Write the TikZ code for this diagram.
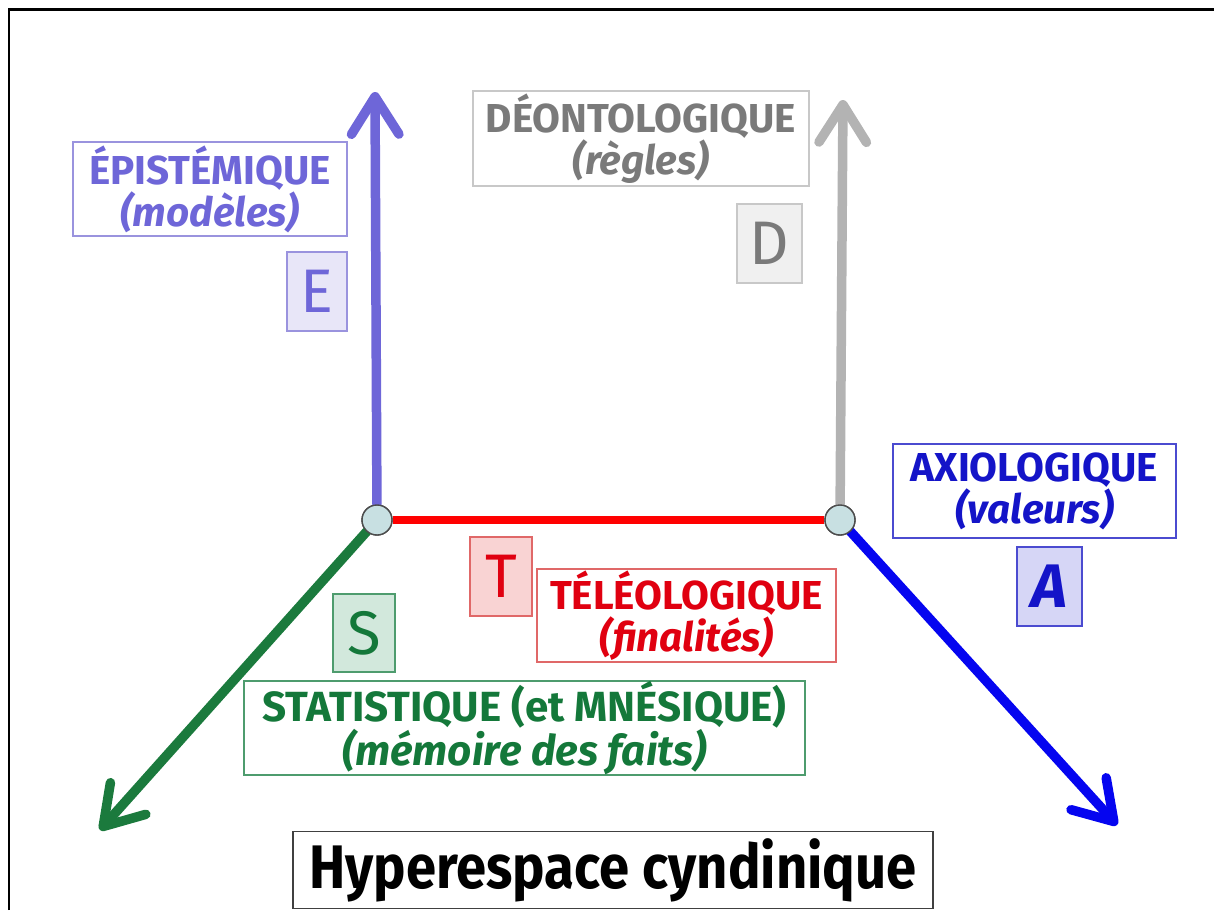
\documentclass[tikz,border=0pt]{standalone}
\usepackage{fontspec}
\setmainfont{Fira Sans}
\usetikzlibrary{arrows.meta}
\definecolor{EpiViolet}{HTML}{6E66D8}
\definecolor{EpiPale}{HTML}{E8E6F8}
\definecolor{EpiTrait}{HTML}{9A93DE}
\definecolor{DeoGris}{HTML}{B3B3B3}
\definecolor{DeoTexte}{HTML}{7A7A7A}
\definecolor{DeoPale}{HTML}{F0F0F0}
\definecolor{DeoTrait}{HTML}{C8C8C8}
\definecolor{AxiBleu}{HTML}{0505F0}
\definecolor{AxiTexte}{HTML}{1414C8}
\definecolor{AxiPale}{HTML}{D6D6F6}
\definecolor{AxiTrait}{HTML}{4B4BD0}
\definecolor{TeleoRouge}{HTML}{FF0000}
\definecolor{TeleoTexte}{HTML}{E00010}
\definecolor{TeleoPale}{HTML}{F9D3D3}
\definecolor{TeleoTrait}{HTML}{E06868}
\definecolor{StatVert}{HTML}{1B7A3D}
\definecolor{StatTexte}{HTML}{14783A}
\definecolor{StatPale}{HTML}{D2E8DC}
\definecolor{StatTrait}{HTML}{4E9C6E}
\definecolor{Jonction}{HTML}{C8E0E2}
\tikzset{
  cadre/.style={line width=0.06cm, draw=black},
  axebox/.style={draw, line width=0.9pt, fill=white, align=center, inner sep=0pt, font=\fontsize{23}{24}\selectfont},
  lettre/.style={draw, line width=0.9pt, inner sep=0pt, minimum width=1.26cm, minimum height=1.58cm, font=\fontsize{35}{35}\selectfont},
  axis/.style={line width=0.19cm, line cap=round, -{Straight Barb[length=7.5mm, width=9.5mm, line cap=round, line join=round]}},
  jonction/.style={circle, draw=black!70, fill=Jonction, line width=0.8pt, minimum size=0.6cm, inner sep=0pt},
  titre/.style={draw=black!75, line width=0.9pt, fill=white, inner sep=0pt, minimum width=12.8cm, minimum height=1.54cm, font=\fontsize{35}{35}\selectfont\bfseries},
}
\begin{document}
\begin{tikzpicture}[x=0.02cm, y=-0.02cm]
    \useasboundingbox (0,0) rectangle (1214,910);
    \draw[cadre] (9,910) -- (9,9) -- (1214,9);
    \coordinate (eTip) at (375,92);
    \coordinate (dTip) at (843,100);
    \coordinate (sTip) at (100,830);
    \coordinate (aTip) at (1117,825);
    \node[jonction] (L) at (377,520) {};
    \node[jonction] (R) at (840,520) {};
    \draw[axis, draw=EpiViolet] (L) -- (eTip);
    \draw[axis, draw=DeoGris] (R) -- (dTip);
    \draw[axis, draw=StatVert] (L) -- (sTip);
    \draw[axis, draw=AxiBleu] (R) -- (aTip);
    \draw[line width=0.17cm, draw=TeleoRouge] (L) -- (R);
    \node[jonction] at (L) {};
    \node[jonction] at (R) {};
    \node[axebox, draw=EpiTrait, text=EpiViolet, minimum width=5.48cm, minimum height=1.88cm] (epi) at (210,189) {\textbf{ÉPISTÉMIQUE}\\\textbf{\textit{(modèles)}}};
    \node[lettre, draw=EpiTrait, fill=EpiPale, text=EpiViolet, minimum width=1.2cm] (eLet) at (317,291.5) {E};
    \node[axebox, draw=DeoTrait, text=DeoTexte, minimum width=6.72cm, minimum height=1.9cm] (deo) at (641,138.5) {\textbf{DÉONTOLOGIQUE}\\\textbf{\textit{(règles)}}};
    \node[lettre, draw=DeoTrait, fill=DeoPale, text=DeoTexte, minimum width=1.3cm] (dLet) at (769.5,243.5) {D};
    \node[axebox, draw=AxiTrait, text=AxiTexte, minimum width=5.66cm, minimum height=1.88cm] (axi) at (1034.5,491) {\textbf{AXIOLOGIQUE}\\\textbf{\textit{(valeurs)}}};
    \node[lettre, draw=AxiTrait, fill=AxiPale, text=AxiTexte, minimum width=1.3cm] (aLet) at (1049.5,586.5) {\textbf{\textit{A}}};
    \node[lettre, draw=TeleoTrait, fill=TeleoPale, text=TeleoTexte, minimum width=1.24cm] (tLet) at (501,576.5) {T};
    \node[axebox, draw=TeleoTrait, text=TeleoTexte, minimum width=5.98cm, minimum height=1.86cm] (tel) at (686.5,615.5) {\textbf{TÉLÉOLOGIQUE}\\\textbf{\textit{(finalités)}}};
    \node[lettre, draw=StatTrait, fill=StatPale, text=StatTexte, minimum width=1.24cm, minimum height=1.56cm] (sLet) at (364,633) {S};
    \node[axebox, draw=StatTrait, text=StatTexte, minimum width=11.22cm, minimum height=1.8cm, font=\fontsize{24}{25}\selectfont] (sta) at (524.5,728) {\textbf{STATISTIQUE (et MNÉSIQUE)}\\\textbf{\textit{(mémoire des faits)}}};
    \node[titre] (hyper) at (613,870) {\scalebox{0.885}[1]{Hyperespace cyndinique}};
  \end{tikzpicture}
\end{document}
